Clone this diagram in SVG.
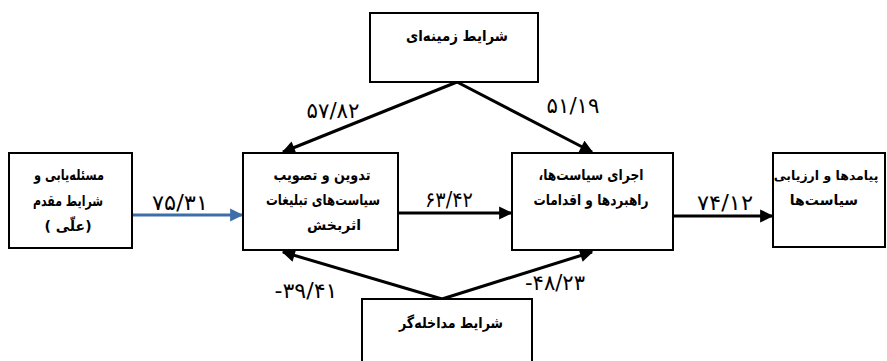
<svg xmlns="http://www.w3.org/2000/svg" width="887" height="361" viewBox="0 0 887 361">
<style>
.box{fill:#fff;stroke:#000;stroke-width:2}
.fa{font-family:"DejaVu Sans","Noto Sans",sans-serif;font-weight:bold;font-size:15px;fill:#000;text-anchor:middle;direction:rtl}
.sm{font-size:14px}
.num{font-family:"DejaVu Sans","Noto Sans",sans-serif;font-size:21px;fill:#000;text-anchor:middle}
.ln{stroke:#000;stroke-width:3;fill:none}
.blue{stroke:#3e6ea8;stroke-width:3;fill:none}
</style>
<defs>
<marker id="ah" viewBox="0 0 10 10" refX="9" refY="5" markerWidth="5" markerHeight="4.4" orient="auto" markerUnits="strokeWidth"><path d="M0,0 L10,5 L0,10 z" fill="#000"/></marker>
<marker id="ahb" viewBox="0 0 10 10" refX="9" refY="5" markerWidth="5" markerHeight="4.4" orient="auto" markerUnits="strokeWidth"><path d="M0,0 L10,5 L0,10 z" fill="#3e6ea8"/></marker>
</defs>
<g id="connectors">
<line class="blue" x1="132" y1="215" x2="242" y2="215" marker-end="url(#ahb)"/>
<line class="ln" x1="398" y1="213" x2="511" y2="213" marker-end="url(#ah)"/>
<line class="ln" x1="673" y1="216" x2="772" y2="216" marker-end="url(#ah)"/>
<line class="ln" x1="457" y1="82" x2="283" y2="152" marker-end="url(#ah)"/>
<line class="ln" x1="457" y1="82" x2="592" y2="152" marker-end="url(#ah)"/>
<line class="ln" x1="442" y1="299" x2="283" y2="252" marker-end="url(#ah)"/>
<line class="ln" x1="442" y1="299" x2="592" y2="252" marker-end="url(#ah)"/>
<text class="num" x="180" y="210" textLength="56" lengthAdjust="spacingAndGlyphs">۷۵/۳۱</text>
<text class="num" x="449" y="207" textLength="48" lengthAdjust="spacingAndGlyphs">۶۳/۴۲</text>
<text class="num" x="725" y="210" textLength="56" lengthAdjust="spacingAndGlyphs">۷۴/۱۲</text>
<text class="num" x="333" y="118" textLength="53" lengthAdjust="spacingAndGlyphs">۵۷/۸۲</text>
<text class="num" x="573" y="113" textLength="53" lengthAdjust="spacingAndGlyphs">۵۱/۱۹</text>
<text class="num" x="306" y="298" textLength="63" lengthAdjust="spacingAndGlyphs">-۳۹/۴۱</text>
<text class="num" x="555" y="290" textLength="60" lengthAdjust="spacingAndGlyphs">-۴۸/۲۳</text>
</g>
<g id="n1">
<rect class="box" x="9" y="153" width="123" height="95"/>
<text class="fa" x="69" y="180" textLength="70" lengthAdjust="spacingAndGlyphs">مسئله‌یابی و</text>
<text class="fa" x="68" y="206" textLength="70" lengthAdjust="spacingAndGlyphs">شرایط مقدم</text>
<text class="fa sm" x="68" y="231">(علّی )</text>
</g>
<g id="n2">
<rect class="box" x="243" y="153" width="155" height="97"/>
<text class="fa" x="322" y="180" textLength="97" lengthAdjust="spacingAndGlyphs">تدوین و تصویب</text>
<text class="fa" x="323" y="205" textLength="114" lengthAdjust="spacingAndGlyphs">سیاست‌های تبلیغات</text>
<text class="fa sm" x="334" y="230">اثربخش</text>
</g>
<g id="n3">
<rect class="box" x="512" y="153" width="161" height="97"/>
<text class="fa" x="591" y="180" textLength="105" lengthAdjust="spacingAndGlyphs">اجرای سیاست‌ها،</text>
<text class="fa" x="591" y="205" textLength="115" lengthAdjust="spacingAndGlyphs">راهبردها و اقدامات</text>
</g>
<g id="n4">
<rect class="box" x="773" y="153" width="112" height="94"/>
<text class="fa" x="826" y="180" style="font-size:12.5px">پیامدها و ارزیابی</text>
<text class="fa sm" x="824" y="205">سیاست‌ها</text>
</g>
<g id="n5">
<rect class="box" x="370" y="13" width="168" height="69"/>
<text class="fa" x="457" y="41" textLength="102" lengthAdjust="spacingAndGlyphs">شرایط زمینه‌ای</text>
</g>
<g id="n6">
<rect class="box" x="362" y="299" width="170" height="70"/>
<text class="fa" x="451" y="328" textLength="104" lengthAdjust="spacingAndGlyphs">شرایط مداخله‌گر</text>
</g>
</svg>
